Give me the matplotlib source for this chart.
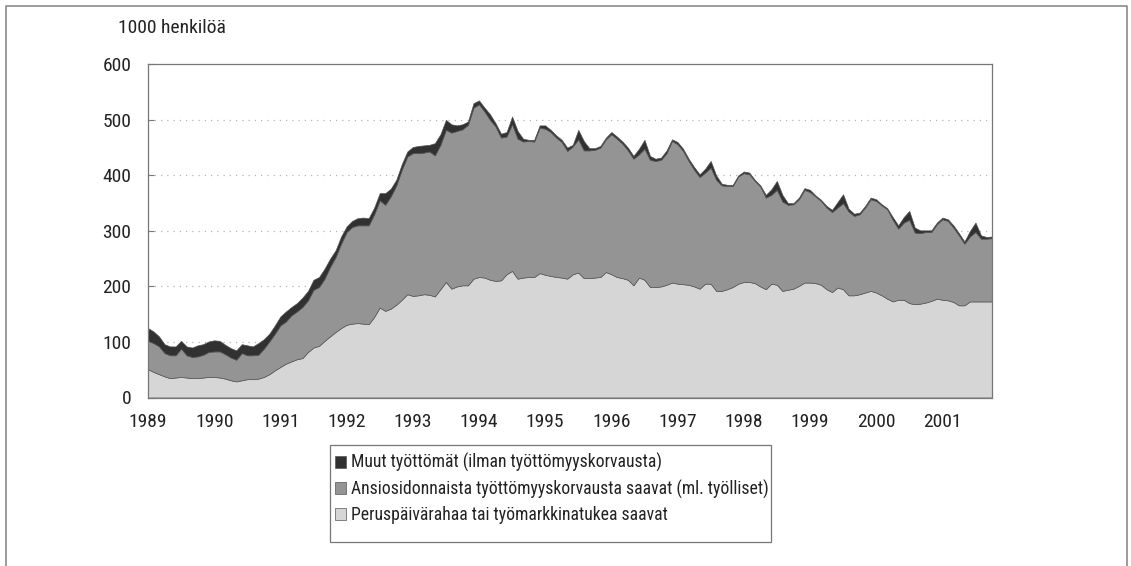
import numpy as np
import matplotlib
matplotlib.use("Agg")
import matplotlib.pyplot as plt
from matplotlib.patches import Patch, Rectangle
from matplotlib.lines import Line2D
from matplotlib import font_manager

# kapea groteski, jos löytyy
nimet_fontit = {f.name for f in font_manager.fontManager.ttflist}
ehdokkaat = ['Liberation Sans Narrow', 'DejaVu Sans Condensed', 'Roboto Condensed', 'Liberation Sans']
fontti = [f for f in ehdokkaat if f in nimet_fontit][:1] + ['DejaVu Sans']
plt.rcParams['font.family'] = fontti

# kuukausittain, tammikuu 1989 - lokakuu 2001 (1000 henkilöä)
perus = [
    51, 46, 42, 38, 35, 36, 37, 36, 35, 35, 36, 37,            # 1989
    37, 36, 34, 31, 29, 31, 33, 33, 34, 37, 42, 49,            # 1990
    55, 61, 65, 69, 71, 82, 90, 93, 102, 110, 118, 125,        # 1991
    131, 133, 134, 133, 132, 145, 162, 156, 160, 167, 176, 186,  # 1992
    183, 184, 186, 185, 182, 195, 208, 196, 200, 202, 202, 214,  # 1993
    217, 216, 212, 210, 211, 222, 228, 214, 216, 217, 217, 224,  # 1994
    221, 219, 217, 216, 214, 222, 225, 215, 215, 216, 217, 226,  # 1995
    222, 217, 215, 212, 202, 216, 212, 199, 199, 200, 203, 207,  # 1996
    205, 204, 203, 200, 196, 205, 205, 192, 192, 195, 199, 205,  # 1997
    208, 208, 206, 200, 195, 205, 203, 192, 194, 196, 201, 207,  # 1998
    207, 206, 203, 195, 190, 198, 195, 184, 184, 186, 189, 192,  # 1999
    189, 184, 178, 173, 176, 176, 170, 168, 169, 171, 174, 178,  # 2000
    176, 175, 172, 166, 166, 173, 173, 173, 173, 173,            # 2001
]
ansio = [
    51, 52, 50, 42, 41, 40, 51, 40, 38, 39, 41, 45,
    46, 47, 44, 41, 39, 49, 43, 43, 43, 51, 59, 66,
    75, 76, 83, 86, 92, 93, 104, 106, 112, 125, 135, 152,
    167, 174, 176, 177, 178, 185, 193, 191, 202, 215, 234, 248,
    257, 256, 255, 258, 254, 260, 274, 281, 280, 281, 289, 308,
    311, 299, 288, 278, 257, 248, 264, 252, 245, 245, 244, 262,
    263, 259, 251, 244, 230, 230, 240, 230, 230, 230, 233, 239,
    252, 249, 242, 233, 228, 222, 236, 229, 227, 228, 237, 255,
    251, 240, 223, 210, 201, 200, 209, 200, 190, 186, 182, 193,
    196, 194, 184, 180, 165, 160, 171, 161, 153, 152, 156, 167,
    163, 156, 151, 147, 144, 144, 155, 151, 143, 144, 153, 165,
    165, 162, 161, 147, 128, 139, 150, 129, 127, 127, 124, 134,
    145, 143, 134, 126, 111, 117, 125, 113, 113, 114,
]
muut = [
    23, 21, 18, 16, 16, 16, 14, 16, 17, 20, 19, 19,
    20, 19, 17, 17, 17, 16, 18, 16, 21, 17, 14, 15,
    16, 18, 15, 15, 17, 17, 18, 18, 18, 15, 12, 13,
    10, 11, 13, 14, 13, 12, 13, 21, 14, 10, 10, 9,
    11, 13, 13, 12, 22, 19, 18, 15, 10, 9, 6, 8,
    7, 7, 10, 6, 7, 8, 14, 14, 5, 2, 3, 4,
    6, 4, 4, 4, 6, 3, 17, 17, 4, 3, 3, 3,
    4, 4, 4, 5, 5, 10, 16, 7, 4, 4, 5, 3,
    4, 4, 4, 5, 5, 7, 12, 8, 3, 2, 2, 2,
    3, 3, 2, 2, 5, 10, 16, 12, 3, 2, 3, 3,
    4, 2, 2, 3, 4, 10, 16, 5, 4, 3, 3, 3,
    3, 2, 2, 5, 6, 10, 16, 9, 5, 3, 3, 3,
    3, 3, 4, 4, 4, 10, 17, 6, 3, 3,
]
vuodet = list(range(1989, 2002))
nimet = [
    "Muut työttömät (ilman työttömyyskorvausta)",
    "Ansiosidonnaista työttömyyskorvausta saavat (ml. työlliset)",
    "Peruspäivärahaa tai työmarkkinatukea saavat",
]
varit = ["#313131", "#949494", "#d6d6d6"]

x = 1989 + np.arange(len(perus)) / 12.0

W, H = 1131, 566
fig = plt.figure(figsize=(W / 100, H / 100), dpi=100)
ax = fig.add_axes([148 / W, 1 - 397.5 / H, (992 - 148) / W, (397.5 - 64.3) / H])

for y in range(100, 600, 100):
    ax.axhline(y, color="#b5b5b5", lw=0.9, ls=(0, (1, 4)), zorder=0)

ax.stackplot(x, perus, ansio, muut, colors=[varit[2], varit[1], varit[0]],
             edgecolor="#555555", linewidth=0.5, zorder=2)

ax.set_xlim(x[0], x[-1])
ax.set_ylim(0, 600)
ax.set_yticks(range(0, 700, 100))
ax.set_xticks(vuodet)
ax.set_xticks(x, minor=True)
ax.tick_params(axis="y", direction="in", length=4, width=0.8, color="#777777",
               labelsize=14, pad=12, labelcolor="#222222")
ax.tick_params(axis="x", which="major", direction="in", length=4, width=0.6,
               color="#777777", labelsize=14, pad=11, labelcolor="#222222")
ax.tick_params(axis="x", which="minor", direction="in", length=3, width=0.5,
               color="#888888")
for s in ax.spines.values():
    s.set_color("#777777")
    s.set_linewidth(0.9)

fig.text(118 / W, 1 - 28 / H, "1000 henkilöä", fontsize=14, va="center", ha="left",
         color="#222222")

# selitteen kehys piirretään erikseen
fig.add_artist(Rectangle((330 / W, 1 - 541.5 / H), (771 - 330) / W, (541.5 - 445) / H,
                         transform=fig.transFigure, fill=False, edgecolor="#777777", lw=0.9))
kahvat = [Patch(facecolor=c, edgecolor="#555555", linewidth=0.5) for c in varit]
leg = fig.legend(kahvat, nimet, loc="upper left", bbox_to_anchor=(335 / W, 1 - 453 / H),
                 frameon=False, fontsize=12.7, handlelength=0.65,
                 handleheight=0.65, handletextpad=0.25, labelspacing=0.42,
                 borderpad=0, borderaxespad=0)
for t in leg.get_texts():
    t.set_color("#222222")

# kehys kuvan ympärillä (alareuna auki)
fx0, fx1, fy = 6 / W, 1127 / W, 1 - 6 / H
fig.add_artist(Line2D([fx0, fx0, fx1, fx1], [0, fy, fy, 0], transform=fig.transFigure,
                      color="#8a8a8a", lw=1.2))

fig.savefig("out.png", dpi=100)
